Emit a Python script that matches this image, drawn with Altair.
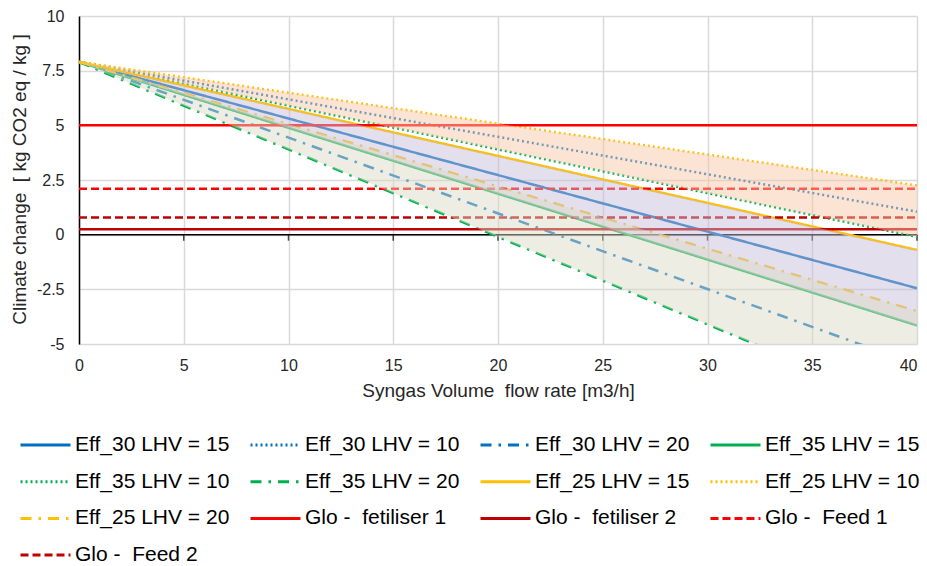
import altair as alt
import pandas as pd

# ---------------- data ----------------
X_ENDS = [0, 40]  # each scenario is a straight line from x=0 to x=40

EFF_SERIES = ["Eff_30 LHV = 15", "Eff_30 LHV = 10", "Eff_30 LHV = 20",
              "Eff_35 LHV = 15", "Eff_35 LHV = 10", "Eff_35 LHV = 20",
              "Eff_25 LHV = 15", "Eff_25 LHV = 10", "Eff_25 LHV = 20"]
EFF_AT_0 = [7.9, 7.9, 7.9, 7.9, 7.9, 7.9, 7.9, 7.9, 7.9]
EFF_AT_40 = [-2.45, 1.05, -5.95, -4.15, -0.1, -8.1, -0.7, 2.25, -3.5]

GLO_SERIES = ["Glo -\u00a0 fetiliser 1", "Glo -\u00a0 fetiliser 2",
              "Glo -\u00a0 Feed 1", "Glo -\u00a0 Feed 2"]
GLO_VALUES = [5.0, 0.25, 2.1, 0.78]

BANDS = ["LHV = 10", "LHV = 15", "LHV = 20"]
BAND_UPPER = ["Eff_25 LHV = 10", "Eff_25 LHV = 15", "Eff_25 LHV = 20"]
BAND_LOWER = ["Eff_35 LHV = 10", "Eff_35 LHV = 15", "Eff_35 LHV = 20"]

X_TICKS = [0, 5, 10, 15, 20, 25, 30, 35, 40]
Y_TICKS = [-5, -2.5, 0, 2.5, 5, 7.5, 10]

# ---------------- styles ----------------
FONT = "Liberation Sans"
BLUE, GREEN, YELLOW, RED, DARKRED = "#0070C0", "#00B050", "#FFC000", "#FF0000", "#C00000"
SOLID, DOT, DASHDOT, DASH = [1, 0], [2, 3], [11, 7, 2.5, 7], [8, 4]

ORDER = EFF_SERIES + GLO_SERIES
COLORS = [BLUE] * 3 + [GREEN] * 3 + [YELLOW] * 3 + [RED, DARKRED, RED, DARKRED]
DASHES = [SOLID, DOT, DASHDOT] * 3 + [SOLID, SOLID, DASH, DASH]
BAND_COLORS = ["#F8C6A8", "#C6BCD8", "#DCDAC4"]

# ---------------- tables ----------------
rows = []
for name, y0, y1 in zip(EFF_SERIES, EFF_AT_0, EFF_AT_40):
    rows.append({"series": name, "x": X_ENDS[0], "y": y0, "o": 0})
    rows.append({"series": name, "x": X_ENDS[1], "y": y1, "o": 1})
for name, v in zip(GLO_SERIES, GLO_VALUES):
    rows.append({"series": name, "x": X_ENDS[0], "y": v, "o": 0})
    rows.append({"series": name, "x": X_ENDS[1], "y": v, "o": 1})
lines_df = pd.DataFrame(rows)

start = dict(zip(EFF_SERIES, EFF_AT_0))
end = dict(zip(EFF_SERIES, EFF_AT_40))
brows = []
for b, up, lo in zip(BANDS, BAND_UPPER, BAND_LOWER):
    brows.append({"band": b, "x": X_ENDS[0], "top": start[up], "bottom": start[lo]})
    brows.append({"band": b, "x": X_ENDS[1], "top": end[up], "bottom": end[lo]})
bands_df = pd.DataFrame(brows)

xs = alt.Scale(domain=[0, 40], nice=False, zero=False)
ys = alt.Scale(domain=[-5, 10], nice=False, zero=False)

x_axis = alt.Axis(values=X_TICKS, domain=False, ticks=False, labelPadding=13,
                  labelFlush=False,
                  labelAlign={"condition": {"test": "datum.value >= 40", "value": "right"},
                              "value": "center"},
                  title="Syngas Volume\u00a0 flow rate [m3/h]",
                  titleX=419, titleY=46, titleBaseline="middle", titleAlign="center")
y_axis = alt.Axis(values=Y_TICKS, domain=True, domainColor="black", domainWidth=1.5,
                  ticks=False, labelPadding=15, labelFlush=False,
                  labelExpr="toString(datum.value)",
                  title="Climate change\u00a0 [ kg CO2 eq / kg ]",
                  titleX=-60, titleY=163, titleAngle=270,
                  titleAlign="center", titleBaseline="middle")

legend = alt.Legend(orient="none", legendX=-60, legendY=418, columns=4,
                    direction="horizontal",
                    symbolType="stroke", symbolSize=2500, symbolStrokeWidth=3,
                    labelFont=FONT, labelFontSize=21, labelColor="#000000",
                    labelLimit=0, labelOffset=3, gridAlign="all",
                    columnPadding=19, rowPadding=14.7, clipHeight=22,
                    padding=0, title=None)

zero_rule = alt.Chart(pd.DataFrame({"y": [0]})).mark_rule(
    color="black", strokeWidth=1.5).encode(y=alt.Y("y:Q", scale=ys, axis=y_axis))

zero_ticks = alt.Chart(pd.DataFrame({"x": X_TICKS[1:], "y": [0] * 8})).mark_tick(
    color="black", thickness=1.5, size=6, yOffset=3, orient="vertical").encode(
    x=alt.X("x:Q", scale=xs, axis=x_axis), y=alt.Y("y:Q", scale=ys))

lines = alt.Chart(lines_df).mark_line(strokeWidth=2.5, clip=True).encode(
    x=alt.X("x:Q", scale=xs, axis=x_axis),
    y=alt.Y("y:Q", scale=ys, axis=y_axis),
    color=alt.Color("series:N", scale=alt.Scale(domain=ORDER, range=COLORS),
                    legend=legend),
    strokeDash=alt.StrokeDash("series:N", scale=alt.Scale(domain=ORDER, range=DASHES),
                              legend=legend),
    order="o:Q",
)

areas = alt.Chart(bands_df).mark_area(opacity=0.48, clip=True).encode(
    x=alt.X("x:Q", scale=xs),
    y=alt.Y("top:Q", scale=ys),
    y2="bottom:Q",
    fill=alt.Fill("band:N", scale=alt.Scale(domain=BANDS, range=BAND_COLORS), legend=None),
)

chart = alt.layer(zero_rule, zero_ticks, lines, areas).properties(
    width=838, height=328,
    autosize=alt.AutoSizeParams(type="none"),
    padding={"left": 71, "top": 8, "right": 2, "bottom": 221},
).configure_view(stroke=None).configure_axis(
    grid=True, gridColor="#D9D9D9", gridWidth=1.5,
    labelFont=FONT, labelFontSize=16, labelColor="#262626",
    titleFont=FONT, titleFontSize=19, titleFontWeight="normal", titleColor="#262626",
)

chart.save("out.html", embed_options={"renderer": "svg", "actions": False})
